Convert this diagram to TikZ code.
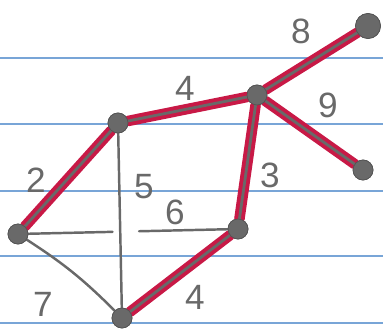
\documentclass[tikz,border=0pt]{standalone}
\usepackage{fontspec}
\setsansfont{Liberation Sans}
\usetikzlibrary{calc}
\definecolor{PaperLine}{RGB}{120,165,215}
\definecolor{TreeRed}{RGB}{200,25,70}
\definecolor{PencilGray}{RGB}{105,105,105}
\tikzset{
  vert/.style={circle, fill=PencilGray, draw=PencilGray!80!black, minimum size=4mm, inner sep=0pt},
  aresta/.style={PencilGray, line width=1.4pt, line cap=round},
  arvore/.style={TreeRed, line width=6pt, line cap=round,
                 postaction={draw=PencilGray, line width=1.6pt}},
  peso/.style={font=\sffamily\fontsize{20}{20}\selectfont, text=PencilGray, inner sep=0pt},
  pauta/.style={PaperLine, line width=0.8pt},
}

\begin{document}
\begin{tikzpicture}
  \useasboundingbox (0,0) rectangle (7.66,-6.64);
  % Pautas do papel
  \foreach \y in {1.16,2.48,3.82,5.12,6.46}
    \draw[pauta] (0,-\y) -- (7.66,-\y);

  % Vertices
  \node[vert] (A) at (2.36,-2.46) {};
  \node[vert] (B) at (5.14,-1.90) {};
  \node[vert, minimum size=5mm] (C) at (7.36,-0.52) {};
  \node[vert] (D) at (7.26,-3.40) {};
  \node[vert] (E) at (0.36,-4.68) {};
  \node[vert] (F) at (4.76,-4.58) {};
  \node[vert] (G) at (2.44,-6.36) {};

  % Arestas fora da arvore
  \draw[aresta] (A) -- (G);
  \draw[aresta] (E) -- ($(E)!0.43!(F)$);
  \draw[aresta] ($(E)!0.55!(F)$) -- (F);
  \draw[aresta] (E) to[bend left=6] (G);

  % Arvore geradora minima
  \draw[arvore] (A) -- (B);
  \draw[arvore] (B) -- (C);
  \draw[arvore] (B) -- (D);
  \draw[arvore] (B) -- (F);
  \draw[arvore] (A) -- (E);
  \draw[arvore] (F) -- (G);

  % redesenha os vertices por cima
  \foreach \v in {A,B,D,E,F,G}
    \node[vert] at (\v) {};
  \node[vert, minimum size=5mm] at (C) {};

  % Pesos
  \node[peso] (pAB) at (3.70,-1.76) {4};
  \node[peso] (pBC) at (6.02,-0.62) {8};
  \node[peso] (pBD) at (6.56,-2.10) {9};
  \node[peso] (pBF) at (5.40,-3.50) {3};
  \node[peso] (pAE) at (0.72,-3.60) {2};
  \node[peso] (pAG) at (2.88,-3.74) {5};
  \node[peso] (pEF) at (3.50,-4.24) {6};
  \node[peso] (pEG) at (0.86,-6.08) {7};
  \node[peso] (pFG) at (3.90,-5.94) {4};
\end{tikzpicture}
\end{document}
